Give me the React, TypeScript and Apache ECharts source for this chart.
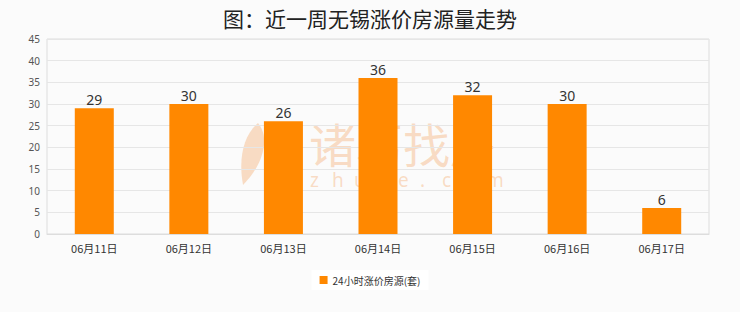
import React, { useEffect, useRef } from "react";
import * as echarts from "echarts";

const categories = ["06月11日", "06月12日", "06月13日", "06月14日", "06月15日", "06月16日", "06月17日"];
const values = [29, 30, 26, 36, 32, 30, 6];
const seriesName = "24小时涨价房源(套)";
const titleText = "图：近一周无锡涨价房源量走势";
const watermarkCn = "诸葛找房";
const watermarkEn = "zhuge.com";

echarts.graphic.registerShape(
  "feather",
  echarts.graphic.extendPath(
    "M20 0 C6 12 0 34 5 62 C13 54 24 40 26 22 C27 12 24 5 20 0 Z",
    {}
  )
);

export default function App() {
  const ref = useRef<HTMLDivElement>(null);
  useEffect(() => {
    const chart = echarts.init(ref.current!, null, { renderer: "svg" });
    const wm = "rgba(244,168,105,0.38)";
    const enLetters = watermarkEn.split("").map((ch, i) => ({
      type: "text",
      left: 310 + i * 22,
      top: 170,
      z: 0,
      style: { text: ch, fontSize: 19, lineHeight: 19, fill: wm, fontFamily: "Noto Sans" },
    }));
    chart.setOption({
      animation: false,
      backgroundColor: "#fbfbfb",
      title: {
        text: titleText,
        left: "center",
        top: 2,
        textStyle: { fontSize: 21, fontWeight: "normal", color: "#222", fontFamily: "Noto Sans CJK SC" },
      },
      graphic: [
        { type: "feather", x: 238, y: 123, scaleX: 1, scaleY: 1, z: 0, style: { fill: wm } },
        {
          type: "text",
          left: 309,
          top: 119,
          z: 0,
          style: { text: watermarkCn, fontSize: 47, lineHeight: 47, fill: wm, fontFamily: "Noto Sans CJK SC" },
        },
        ...enLetters,
      ],
      legend: {
        bottom: 22,
        left: "center",
        itemWidth: 8,
        itemHeight: 8,
        icon: "rect",
        backgroundColor: "#ffffff",
        padding: [5, 8],
        textStyle: { fontSize: 10, color: "#333", fontFamily: "Noto Sans CJK SC" },
        data: [seriesName],
      },
      grid: {
        left: 47,
        right: 31,
        top: 39,
        bottom: 78,
        show: true,
        borderColor: "#dddddd",
        borderWidth: 1,
      },
      xAxis: {
        type: "category",
        data: categories,
        axisLine: { lineStyle: { color: "#dddddd" } },
        axisTick: { show: false },
        axisLabel: { fontSize: 11, color: "#333", margin: 8, fontFamily: "Noto Sans CJK SC" },
      },
      yAxis: {
        type: "value",
        min: 0,
        max: 45,
        interval: 5,
        axisLine: { show: false },
        axisTick: { show: false },
        splitLine: { lineStyle: { color: "#e6e6e6" } },
        axisLabel: { fontSize: 10, color: "#555", margin: 7, fontFamily: "Noto Sans" },
      },
      series: [
        {
          name: seriesName,
          type: "bar",
          data: values,
          barWidth: 39,
          z: 2,
          itemStyle: { color: "#ff8800" },
          label: {
            show: true,
            position: "top",
            fontSize: 14,
            color: "#333",
            distance: 2,
            fontFamily: "Noto Sans",
          },
        },
      ],
    });
    return () => chart.dispose();
  }, []);
  return <div ref={ref} style={{ position: "absolute", left: 0, top: 0, width: 740, height: 312 }} />;
}
